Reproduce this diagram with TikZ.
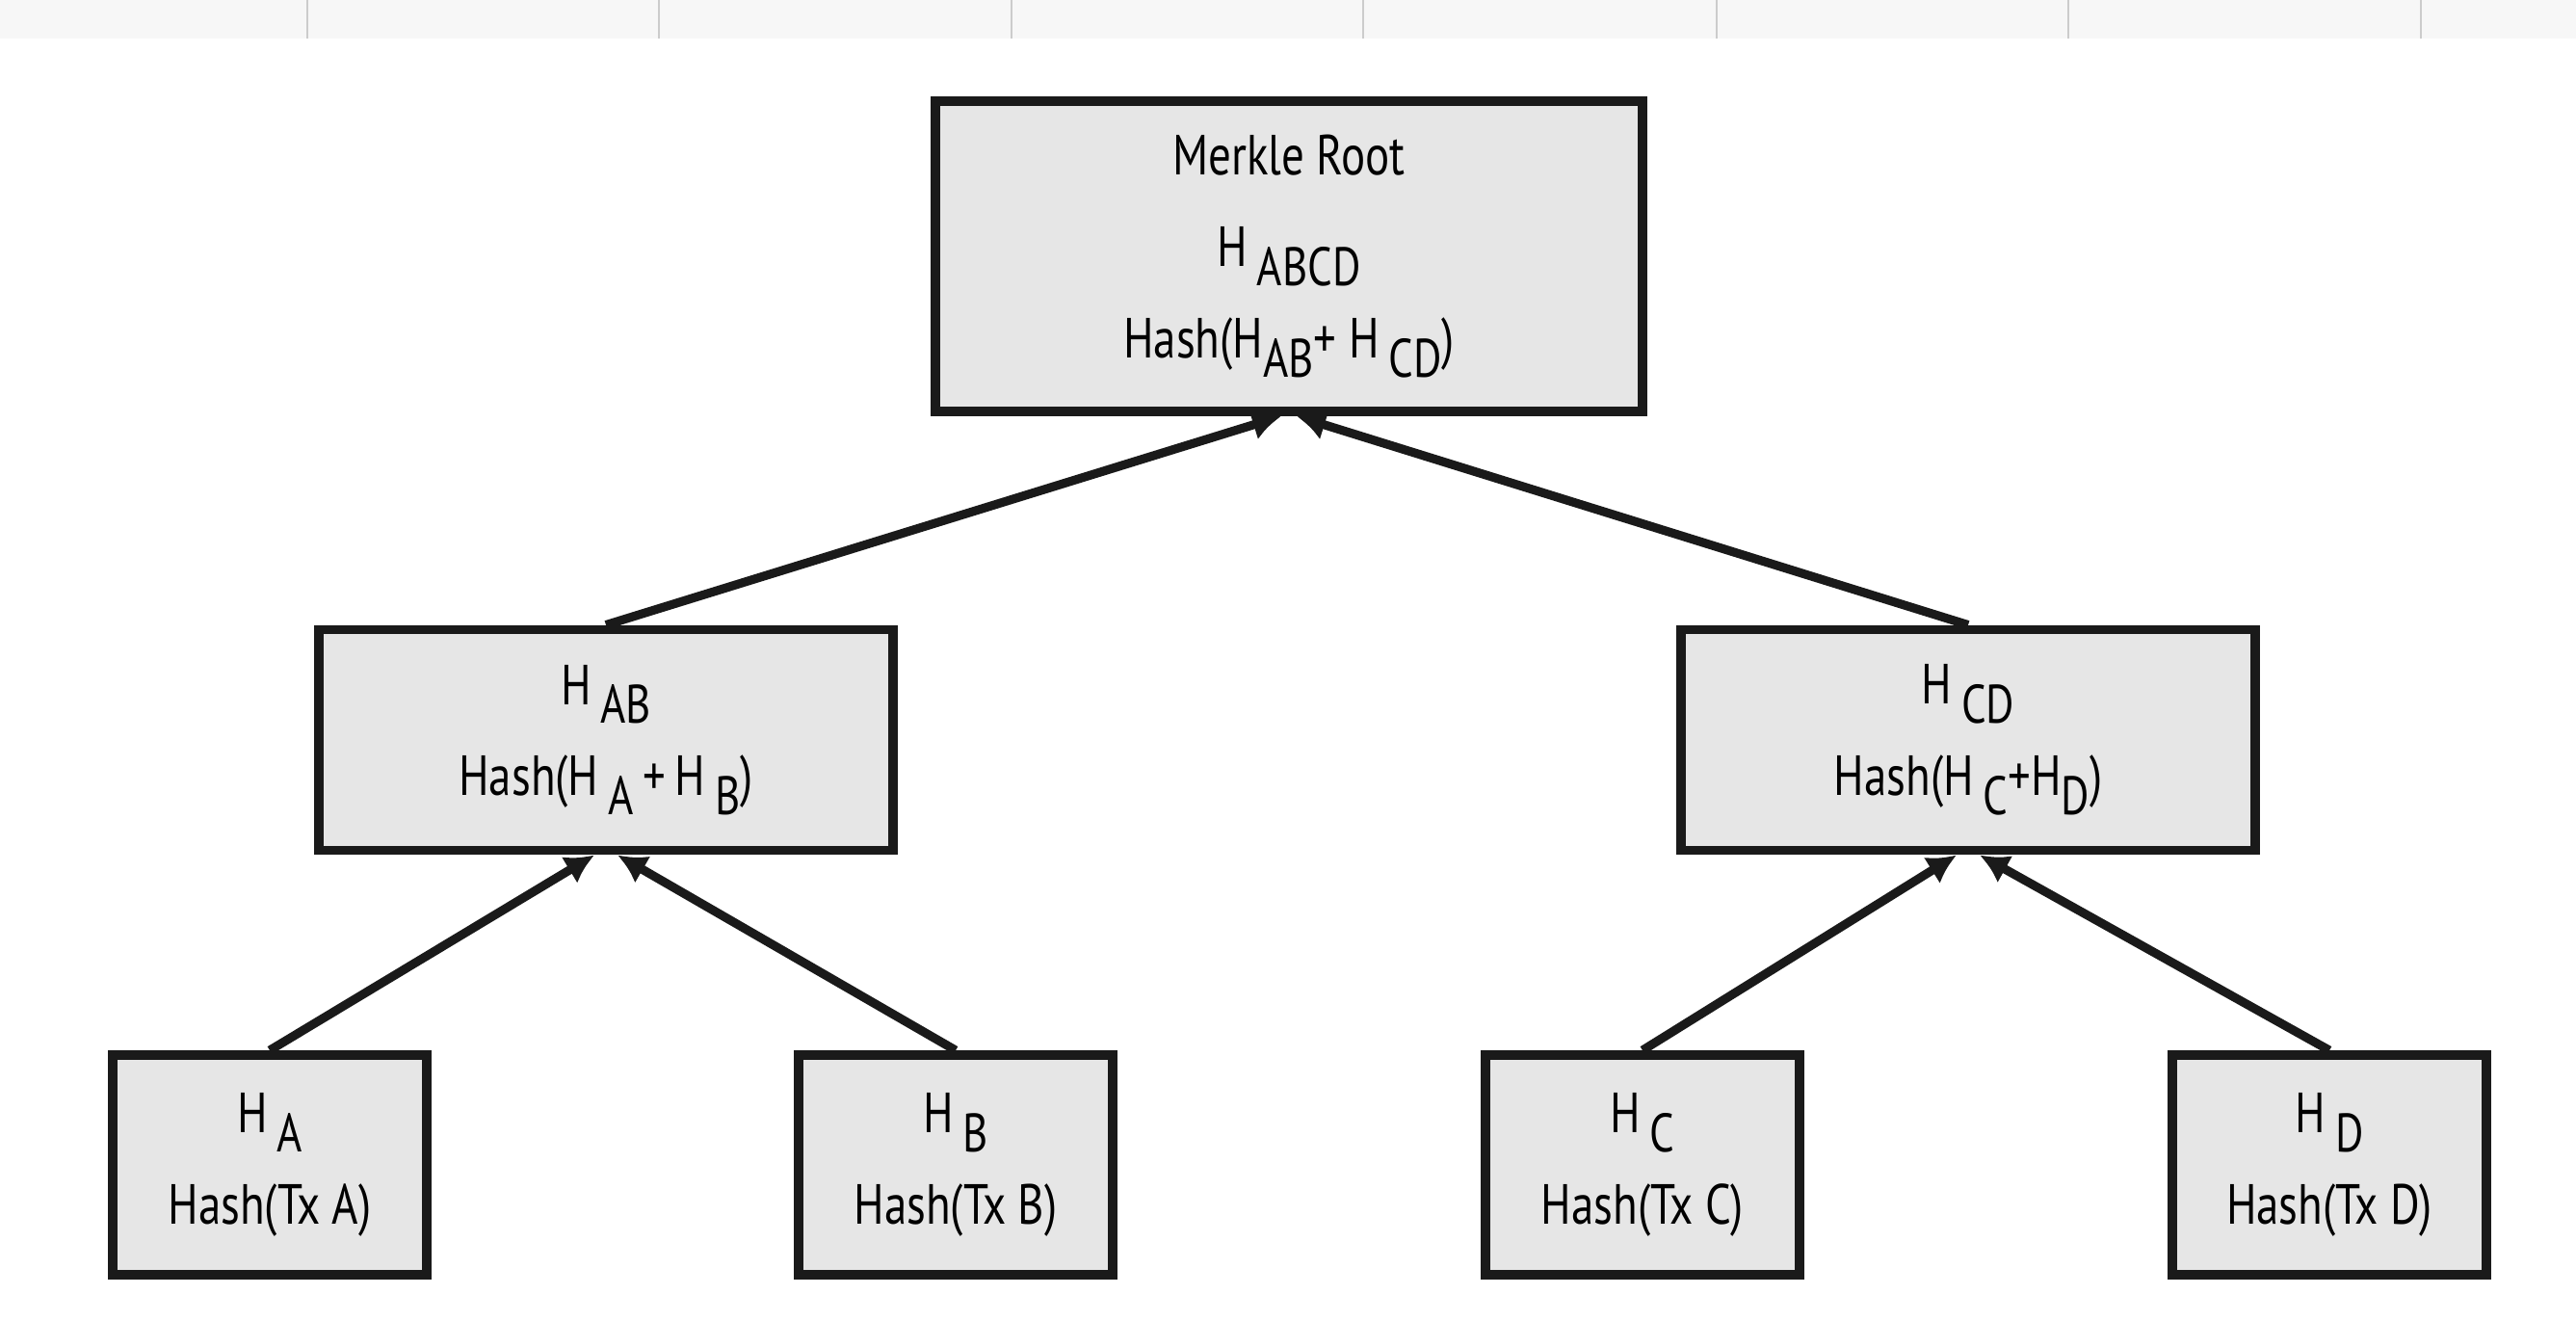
\documentclass[tikz,border=0pt]{standalone}
\usepackage{fontspec}
\setmainfont{PT Sans}[FakeStretch=0.8]
\usepackage{tikz}
\usetikzlibrary{arrows.meta}

\definecolor{boxfill}{HTML}{E6E6E6}
\definecolor{ink}{HTML}{1A1A1A}
\definecolor{band}{HTML}{F7F7F7}
\definecolor{bandline}{HTML}{CCCCCC}
\newcommand{\lo}[1]{\raisebox{-5.6pt}{\fontsize{16}{16}\selectfont #1}}

\begin{document}
\begin{tikzpicture}

\tikzset{hashbox/.style = {shape=rectangle, draw=ink, fill=boxfill, line width=2.8pt, align=center, inner sep=0pt, font=\fontsize{16.7}{27}\selectfont}}
\tikzset{leafbox/.style = {hashbox, minimum width=3.26cm, minimum height=2.28cm}}
\tikzset{midbox/.style = {hashbox, minimum width=5.96cm, minimum height=2.29cm}}
\tikzset{edge/.style = {->,> = {Latex[length=0.3cm, width=0.32cm]}, draw=ink, line width=2.6pt}}

\useasboundingbox (0,0) rectangle (26.74,-13.70);

% header band
\fill[band] (0,0) rectangle (26.74,-0.40);
\foreach \x in {3.19,6.84,10.50,14.15,17.82,21.47,25.13}
  \draw[bandline, line width=0.5pt] (\x,0) -- (\x,-0.40);

% vertices
\node[hashbox, minimum width=7.34cm, minimum height=3.22cm] (root) at (13.38,-2.66) {Merkle Root\\ H\,\lo{ABCD}\\ Hash(H\lo{AB}+ H\,\lo{CD})};
\node[midbox] (hab) at (6.29,-7.68) {H\,\lo{AB}\\ Hash(H\,\lo{A}\,+\,H\,\lo{B})};
\node[midbox] (hcd) at (20.43,-7.68) {H\,\lo{CD}\\ Hash(H\,\lo{C}+H\lo{D})};
\node[leafbox] (ha) at (2.80,-12.09) {H\,\lo{A}\\ Hash(Tx A)};
\node[leafbox] (hb) at (9.92,-12.09) {H\,\lo{B}\\ Hash(Tx B)};
\node[leafbox] (hc) at (17.05,-12.09) {H\,\lo{C}\\ Hash(Tx C)};
\node[leafbox] (hd) at (24.18,-12.09) {H\,\lo{D}\\ Hash(Tx D)};

%edges
\draw[edge] (hab.north) -- ([xshift=-0.08cm]root.south);
\draw[edge] (hcd.north) -- ([xshift=0.08cm]root.south);
\draw[edge] (ha.north) -- ([xshift=-0.12cm]hab.south);
\draw[edge] (hb.north) -- ([xshift=0.12cm]hab.south);
\draw[edge] (hc.north) -- ([xshift=-0.12cm]hcd.south);
\draw[edge] (hd.north) -- ([xshift=0.12cm]hcd.south);

\end{tikzpicture}
\end{document}
